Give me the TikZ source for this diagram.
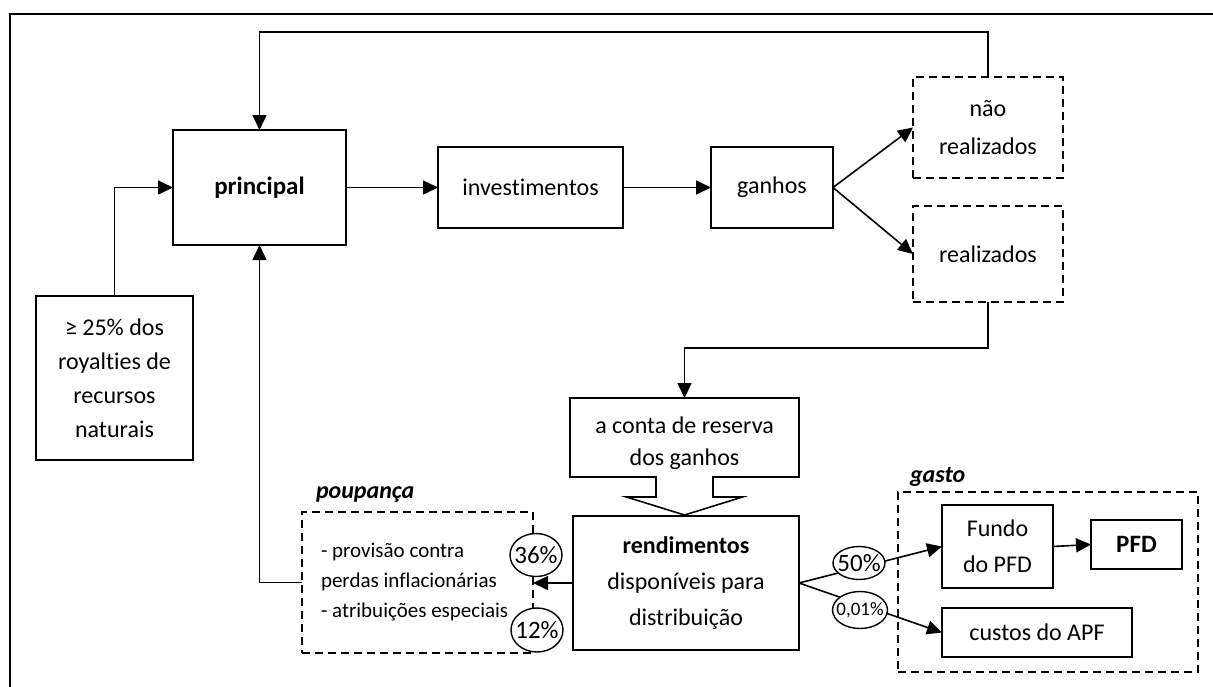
\documentclass[tikz,border=0pt]{standalone}
\usepackage{fontspec}
\setmainfont{Carlito}[Ligatures=NoCommon]
\usetikzlibrary{arrows.meta,calc,shapes.geometric}
\begin{document}
\begin{tikzpicture}[x=1pt,y=-1pt,
  every node/.style={inner sep=0pt, outer sep=0pt},
  txt/.style={font=\fontsize{24}{34}\selectfont, align=center},
  box/.style={txt, draw, line width=1.6pt, rectangle},
  dbox/.style={box, dash pattern=on 8pt off 5pt},
  pct/.style={ellipse, draw, line width=1.4pt, fill=white, font=\fontsize{25}{25}\selectfont},
  flow/.style={line width=1.6pt, -{Triangle[length=15pt,width=14pt]}},
  link/.style={line width=1.6pt},
  grouplabel/.style={font=\fontsize{24}{24}\selectfont\bfseries\itshape, anchor=base west}
]
\useasboundingbox (0,0) rectangle (1213,686);
% outer frame
\draw[line width=2pt] (10,700) -- (10,14) -- (1230,14);

% main chain
\node[box, line width=2.6pt, font=\fontsize{25}{30}\selectfont\bfseries,
      minimum width=173, minimum height=115] (principal) at (259.5,187.5) {principal};
\node[box, minimum width=157, minimum height=164] (royal) at (114.5,378)
  {≥ 25\% dos\\royalties de\\recursos\\naturais};
\node[box, minimum width=185, minimum height=81] (invest) at (530.5,187.5) {investimentos};
\node[box, minimum width=122, minimum height=81] (ganhos) at (772,187.5) {ganhos};
\node[dbox, font=\fontsize{24}{38}\selectfont, minimum width=150, minimum height=101]
  (nao) at (988,127.5) {não\\realizados};
\node[dbox, minimum width=150, minimum height=96] (realiz) at (988,254) {realizados};

% reserve account with its arrow-shaped outlet
\node[minimum width=229, minimum height=79] (reserve) at (684.5,437.5) {};
\node[txt, font=\fontsize{24}{32}\selectfont] (reservetext) at (684.5,443)
  {a conta de reserva\\dos ganhos};
\draw[link] (reserve.south west) -- (reserve.north west) -- (reserve.north east)
  -- (reserve.south east) -- ($(reserve.south)+(28.5,0)$) -- ($(reserve.south)+(28.5,20)$)
  -- ($(reserve.south)+(58,20)$) -- ($(reserve.south)+(0,38)$)
  -- ($(reserve.south)+(-58,20)$) -- ($(reserve.south)+(-28.5,20)$)
  -- ($(reserve.south)+(-28.5,0)$) -- cycle;

\node[box, font=\fontsize{24}{36}\selectfont, minimum width=226, minimum height=134]
  (rend) at (686,583) {\textbf{rendimentos}\\disponíveis para\\distribuição};

% savings group
\node[dbox, minimum width=231, minimum height=141] (poup) at (417.5,582.5) {};
\node[anchor=west, align=left, font=\fontsize{21}{30}\selectfont] (pouptext) at (321,582)
  {- provisão contra\\perdas inflacionárias\\- atribuições especiais};
\node[grouplabel] (lpoup) at (316,498) {poupança};

% spending group
\node[dbox, minimum width=300, minimum height=180] (gasto) at (1048,582) {};
\node[grouplabel] (lgasto) at (910,482) {gasto};
\node[box, font=\fontsize{24}{36}\selectfont, minimum width=111, minimum height=83]
  (fundo) at (997.5,546.5) {Fundo\\do PFD};
\node[box, font=\fontsize{25}{25}\selectfont\bfseries, minimum width=91, minimum height=49]
  (pfd) at (1136.5,544.5) {PFD};
\node[box, minimum width=190, minimum height=49] (custos) at (1037,632.5) {custos do APF};

% connectors
\draw[flow] (principal.east) -- (invest.west);
\draw[flow] (invest.east) -- (ganhos.west);
\draw[flow] (ganhos.east) -- (nao.west);
\draw[flow] (ganhos.east) -- (realiz.west);
\draw[flow] (nao.north) -- ++(0,-45) -| (principal.north);
\draw[flow] (realiz.south) -- ++(0,46) -| (reserve.north);
\draw[flow] (rend.west) -- (poup.east |- rend.west);
\draw[flow] (poup.west) -| (principal.south);
\draw[flow] (royal.north) |- (principal.west);
\draw[flow] (rend.east) -- (fundo.west);
\draw[flow] (rend.east) -- (custos.west);
\draw[flow] (fundo.east) -- (pfd.west);

% shares
\node[pct, minimum width=52, minimum height=43] (p36) at (536,555) {\makebox[0pt]{36\%}};
\node[pct, minimum width=52, minimum height=44] (p12) at (537,630) {\makebox[0pt]{12\%}};
\node[pct, minimum width=52, minimum height=33] (p50) at (859,563) {\makebox[0pt]{50\%}};
\node[pct, minimum width=55, minimum height=37, font=\fontsize{19}{19}\selectfont]
  (p001) at (860,610) {\makebox[0pt]{0,01\%}};
\end{tikzpicture}
\end{document}
